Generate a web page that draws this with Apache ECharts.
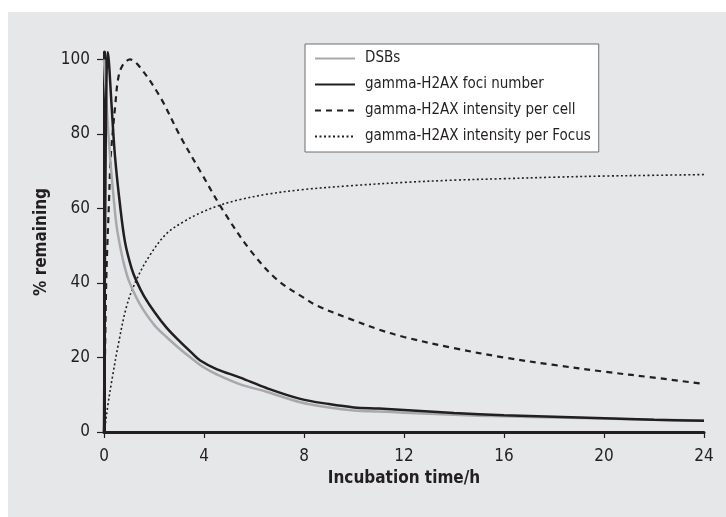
<!DOCTYPE html>
<html>
<head>
<meta charset="utf-8">
<script src="https://cdn.jsdelivr.net/npm/echarts@6/dist/echarts.min.js"></script>
<style>html,body{margin:0;padding:0;background:#fff;}#c{width:726px;height:517px;}</style>
</head>
<body>
<div id="c"></div>
<script>
// ---- data ----
const seriesNames = ['DSBs', 'gamma-H2AX foci number', 'gamma-H2AX intensity per cell', 'gamma-H2AX intensity per Focus'];
const xTicks = [0, 4, 8, 12, 16, 20, 24];
const yTicks = [0, 20, 40, 60, 80, 100];

const dsbTime  = [0, 0.1, 0.24, 0.37, 0.51, 0.7, 0.84, 1.0, 1.3, 1.6, 2.04, 2.5, 3, 3.5, 4, 4.5, 5.45, 6.5, 7.85, 9, 10, 11, 12, 14, 16, 18, 20, 22, 24];
const dsbValue = [100, 88, 74, 64, 55, 48, 44, 40.5, 36, 32.5, 28.5, 25.5, 22.5, 19.8, 17.3, 15.5, 12.8, 10.8, 8, 6.6, 5.8, 5.5, 5.2, 4.6, 4.2, 3.9, 3.6, 3.3, 3.1];

const fociTime  = [0, 0.05, 0.1, 0.15, 0.2, 0.3, 0.44, 0.64, 0.84, 1.1, 1.3, 1.6, 2.04, 2.5, 3, 3.5, 3.85, 4.5, 5.45, 6.5, 7.85, 9, 10, 11, 12, 14, 16, 18, 20, 22, 24];
const fociValue = [0, 60, 95, 102, 99, 88, 74, 61, 51, 44, 40.5, 36.5, 32, 28, 24.5, 21.3, 19.2, 16.9, 14.6, 11.8, 8.9, 7.5, 6.6, 6.3, 5.9, 5.1, 4.5, 4.1, 3.7, 3.3, 3.0];

const cellTime  = [0, 0.05, 0.1, 0.2, 0.27, 0.37, 0.44, 0.57, 0.75, 1.04, 1.44, 2.24, 3.04, 3.85, 4.78, 5.85, 6.92, 8, 8.52, 9.86, 11, 12, 14, 16, 18, 20, 22, 24];
const cellValue = [0, 25, 43, 62, 74, 82, 87, 95, 98.5, 100, 97.9, 90, 79.5, 70, 59.3, 48.8, 40.9, 36, 33.9, 30.3, 27.5, 25.5, 22.5, 20, 18, 16.2, 14.6, 12.9];

const focusTime  = [0, 0.04, 0.15, 0.31, 0.57, 0.91, 1.3, 1.84, 2.51, 3.2, 3.85, 4.6, 5.45, 6.5, 7.85, 9.86, 12, 14, 16, 18, 20, 22, 24];
const focusValue = [0, 1.4, 7, 13.7, 23.4, 33.9, 40.9, 47.5, 53.3, 56.5, 58.8, 60.8, 62.4, 63.8, 65, 66.1, 67, 67.6, 68, 68.4, 68.7, 68.9, 69.1];

function pairs(t, v) { return t.map((x, i) => [x, v[i]]); }

const FONT = "'Liberation Sans Narrow', 'DejaVu Sans Condensed', 'Roboto', sans-serif";
const INK = '#231f20';

const chart = echarts.init(document.getElementById('c'), null, {renderer: 'canvas'});
chart.setOption({
  animation: false,
  backgroundColor: '#ffffff',
  graphic: [{
    type: 'rect', z: -10, silent: true,
    shape: {x: 8, y: 12, width: 718, height: 505},
    style: {fill: '#e6e7e8'}
  }],
  grid: {left: 104, right: 22, top: 52, bottom: 85},
  legend: {
    data: seriesNames,
    orient: 'vertical',
    left: 305, top: 44,
    itemWidth: 40, itemHeight: 14, itemGap: 11,
    padding: [7, 8, 8, 9],
    backgroundColor: '#ffffff',
    borderColor: '#6d6e71', borderWidth: 1,
    itemStyle: {opacity: 0},
    textStyle: {fontFamily: FONT, fontSize: 15, color: INK, padding: [0, 0, 0, 5]}
  },
  xAxis: {
    type: 'value', min: 0, max: 24, interval: 4,
    name: 'Incubation time/h', nameLocation: 'middle', nameGap: 35,
    nameTextStyle: {fontFamily: FONT, fontSize: 17, fontWeight: 'bold', color: INK},
    axisLine: {show: true, lineStyle: {color: INK, width: 3}},
    axisTick: {show: true, length: 6, lineStyle: {color: INK, width: 1.2}, customValues: xTicks},
    axisLabel: {fontFamily: FONT, fontSize: 17, color: INK, margin: 16, customValues: xTicks},
    splitLine: {show: false}
  },
  yAxis: {
    type: 'value', min: 0, max: 102, interval: 20,
    name: '% remaining', nameLocation: 'middle', nameGap: 53, nameRotate: 90,
    nameTextStyle: {fontFamily: FONT, fontSize: 17, fontWeight: 'bold', color: INK},
    axisLine: {show: true, lineStyle: {color: INK, width: 3}},
    axisTick: {show: true, length: 7, lineStyle: {color: INK, width: 1.2}, customValues: yTicks},
    axisLabel: {fontFamily: FONT, fontSize: 17, color: INK, margin: 14, customValues: yTicks,
      formatter: v => (yTicks.indexOf(v) >= 0 ? String(v) : '')},
    splitLine: {show: false}
  },
  series: [
    {name: seriesNames[3], type: 'line', data: pairs(focusTime, focusValue), symbol: 'none', smooth: 0.35,
      lineStyle: {color: INK, width: 1.6, type: [2, 2.5]}, itemStyle: {color: INK}, z: 3},
    {name: seriesNames[2], type: 'line', data: pairs(cellTime, cellValue), symbol: 'none', smooth: 0.35,
      lineStyle: {color: INK, width: 2.2, type: [6, 5]}, itemStyle: {color: INK}, z: 4},
    {name: seriesNames[0], type: 'line', data: pairs(dsbTime, dsbValue), symbol: 'none', smooth: 0.35,
      lineStyle: {color: '#a7a9ac', width: 2.5}, itemStyle: {color: '#a7a9ac'}, z: 5},
    {name: seriesNames[1], type: 'line', data: pairs(fociTime, fociValue), symbol: 'none', smooth: 0.35,
      lineStyle: {color: INK, width: 2.5}, itemStyle: {color: INK}, z: 6}
  ]
});
</script>
</body>
</html>
